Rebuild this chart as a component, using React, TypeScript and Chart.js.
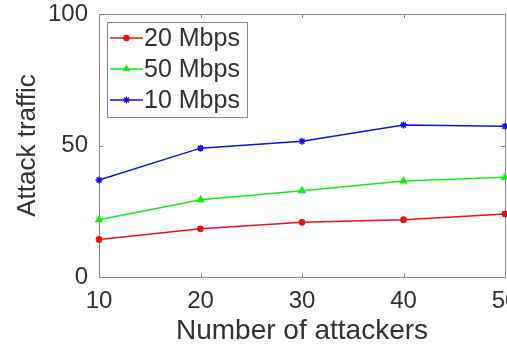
import React, { useEffect, useRef } from "react";
import { Chart, registerables } from "chart.js";
import { drawPoint } from "chart.js/helpers";

Chart.register(...registerables);

const attackers = [10, 20, 30, 40, 50];
const traffic20 = [14.3, 18.3, 20.8, 21.8, 24.0];
const traffic50 = [21.8, 29.4, 32.8, 36.5, 37.9];
const traffic10 = [36.9, 49.0, 51.6, 57.8, 57.3];
const seriesNames = ["20 Mbps", "50 Mbps", "10 Mbps"];
const xTickValues = [10, 20, 30, 40, 50];
const yTickValues = [0, 50, 100];
const xTitle = "Number of attackers";
const yTitle = "Attack traffic";

const FONT = "'Liberation Sans', Arial, Helvetica, sans-serif";
const TEXT = "#333333";
const AXIS = "#8a8a8a";

const framePlugin = {
  id: "matlabFrame",
  beforeDatasetsDraw(chart: any) {
    const { ctx, chartArea: a, scales } = chart;
    ctx.save();
    ctx.strokeStyle = AXIS;
    ctx.lineWidth = 1;
    ctx.strokeRect(Math.round(a.left) + 0.5, Math.round(a.top) + 0.5, Math.round(a.right - a.left), Math.round(a.bottom - a.top));
    const tl = 4;
    ctx.beginPath();
    xTickValues.forEach((v) => {
      const px = Math.round(scales.x.getPixelForValue(v)) + 0.5;
      ctx.moveTo(px, a.bottom);
      ctx.lineTo(px, a.bottom - tl);
      ctx.moveTo(px, a.top);
      ctx.lineTo(px, a.top + tl);
    });
    yTickValues.forEach((v) => {
      const py = Math.round(scales.y.getPixelForValue(v)) + 0.5;
      ctx.moveTo(a.left, py);
      ctx.lineTo(a.left + tl, py);
      ctx.moveTo(a.right, py);
      ctx.lineTo(a.right - tl, py);
    });
    ctx.stroke();
    ctx.restore();
  },
};

const legendPlugin = {
  id: "insideLegend",
  afterDatasetsDraw(chart: any) {
    const { ctx, chartArea: a } = chart;
    const bx = a.left + 8;
    const by = a.top + 8;
    const bw = 140;
    const bh = 95;
    ctx.save();
    ctx.fillStyle = "#ffffff";
    ctx.fillRect(bx, by, bw, bh);
    ctx.strokeStyle = AXIS;
    ctx.lineWidth = 1;
    ctx.strokeRect(Math.round(bx) + 0.5, Math.round(by) + 0.5, bw, bh);
    chart.data.datasets.forEach((ds: any, i: number) => {
      const cy = by + 16 + i * 31;
      const x0 = bx + 3;
      const x1 = bx + 36;
      ctx.strokeStyle = ds.borderColor;
      ctx.lineWidth = 1.5;
      ctx.beginPath();
      ctx.moveTo(x0, cy);
      ctx.lineTo(x1, cy);
      ctx.stroke();
      ctx.fillStyle = ds.pointBackgroundColor;
      ctx.strokeStyle = ds.borderColor;
      ctx.lineWidth = 1.2;
      drawPoint(ctx, { pointStyle: ds.pointStyle, radius: ds.pointRadius, borderWidth: 1.2, rotation: 0 } as any, (x0 + x1) / 2, cy);
      ctx.fillStyle = TEXT;
      ctx.font = `25px ${FONT}`;
      ctx.textBaseline = "middle";
      ctx.textAlign = "left";
      ctx.fillText(ds.label, x1 + 1, cy + 1);
    });
    ctx.restore();
  },
};

export default function App() {
  const ref = useRef<HTMLCanvasElement | null>(null);

  useEffect(() => {
    if (!ref.current) return;
    const mk = (vals: number[]) => attackers.map((x, i) => ({ x, y: vals[i] }));
    const chart = new Chart(ref.current, {
      type: "line",
      data: {
        datasets: [
          {
            label: seriesNames[0],
            data: mk(traffic20),
            borderColor: "#ee1111",
            backgroundColor: "#ee1111",
            pointBackgroundColor: "#ee1111",
            pointStyle: "circle",
            pointRadius: 2.6,
            borderWidth: 1.5,
            clip: false,
          },
          {
            label: seriesNames[1],
            data: mk(traffic50),
            borderColor: "#11ee11",
            backgroundColor: "#11ee11",
            pointBackgroundColor: "#11ee11",
            pointStyle: "triangle",
            pointRadius: 3.5,
            borderWidth: 1.5,
            clip: false,
          },
          {
            label: seriesNames[2],
            data: mk(traffic10),
            borderColor: "#1111ee",
            backgroundColor: "#1111ee",
            pointBackgroundColor: "#1111ee",
            pointStyle: "star",
            pointRadius: 3.5,
            borderWidth: 1.5,
            clip: false,
          },
        ] as any,
      },
      options: {
        responsive: false,
        animation: false,
        devicePixelRatio: 1,
        layout: { padding: { left: 0, right: 35, top: 14, bottom: 0 } },
        plugins: { legend: { display: false }, tooltip: { enabled: false } },
        elements: { line: { tension: 0 } },
        scales: {
          x: {
            type: "linear",
            min: 10,
            max: 50,
            afterFit: (s: any) => {
              s.height = 75;
              s.paddingLeft = 0;
              s.paddingRight = 0;
            },
            afterBuildTicks: (s: any) => {
              s.ticks = xTickValues.map((v) => ({ value: v }));
            },
            grid: { display: false, drawTicks: false },
            border: { display: false },
            ticks: {
              color: TEXT,
              padding: 10,
              maxRotation: 0,
              font: { family: FONT, size: 24 },
            },
            title: {
              display: true,
              text: xTitle,
              color: TEXT,
              font: { family: FONT, size: 28 },
              padding: { top: 0, bottom: 4 },
            },
          },
          y: {
            type: "linear",
            min: 0,
            max: 100,
            afterFit: (s: any) => {
              s.width = 99;
              s.paddingTop = 0;
              s.paddingBottom = 0;
            },
            afterBuildTicks: (s: any) => {
              s.ticks = yTickValues.map((v) => ({ value: v }));
            },
            grid: { display: false, drawTicks: false },
            border: { display: false },
            ticks: {
              color: TEXT,
              padding: 11,
              font: { family: FONT, size: 24 },
            },
            title: {
              display: true,
              text: yTitle,
              color: TEXT,
              font: { family: FONT, size: 26 },
              padding: { top: 12, bottom: 0 },
            },
          },
        },
      },
      plugins: [framePlugin, legendPlugin],
    });
    return () => chart.destroy();
  }, []);

  return (
    <div style={{ position: "absolute", left: 0, top: 0, width: 507, height: 352, overflow: "hidden", background: "#fff" }}>
      <canvas ref={ref} width={540} height={352} style={{ width: 540, height: 352, display: "block" }} />
    </div>
  );
}
